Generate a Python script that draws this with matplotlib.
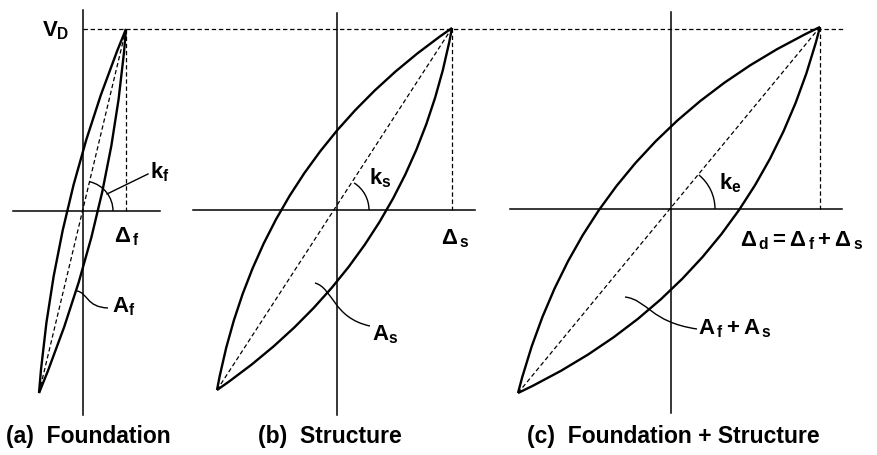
import matplotlib
matplotlib.use("Agg")
import matplotlib.pyplot as plt
import numpy as np
from matplotlib.path import Path
from matplotlib.patches import PathPatch, Arc

plt.rcParams['font.family'] = ['Liberation Sans', 'DejaVu Sans']
plt.rcParams['font.weight'] = 'bold'
plt.rcParams['mathtext.fontset'] = 'custom'
plt.rcParams['mathtext.rm'] = 'Liberation Sans:bold'
plt.rcParams['mathtext.it'] = 'Liberation Sans:bold'
plt.rcParams['mathtext.bf'] = 'Liberation Sans:bold'

# panel geometry (pixel units, y grows downward)
origin_x = [83, 337, 671]
origin_y = [211, 210, 209]
peak_dx = [43, 115, 149]          # Delta_f, Delta_s, Delta_d
peak_rise = [182, 182, 182]       # V_D
tip_dx = [-44, -120, -153]
tip_drop = [182, 180, 184]
bulge = [15, 45, 56]              # half-width of each loop
arc_r = [30, 32, 44]
vaxis_top = [10, 13, 12]
vaxis_bot = [415, 415, 413]
haxis_left = [13, 193, 510]
haxis_right = [160, 475, 842]
vd_line_end = 845

titles = ['(a)  Foundation', '(b)  Structure', '(c)  Foundation + Structure']
title_x = [6, 258, 527]
title_y = 437

k_labels = [r'$k_f$', r'$k_s$', r'$k_e$']
k_pos = [(150, 172), (369, 178), (719, 183)]
d_labels = [r'$\Delta_{\,f}$', r'$\Delta_{\,s}$', r'$\Delta_{\,d} = \Delta_{\,f} + \Delta_{\,s}$']
d_pos = [(114, 237), (441, 239), (740, 241)]
a_labels = [r'$A_f$', r'$A_s$', r'$A_{\,f} + A_{\,s}$']
a_pos = [(112, 307), (372, 335), (698, 329)]
a_leaders = [
    [(77, 291), (88, 293), (86, 307), (108, 308)],
    [(315, 283), (333, 288), (333, 318), (370, 326)],
    [(625, 297), (648, 300), (650, 322), (697, 329)],
]
kf_leader = [(107, 194), (148, 174)]

fig = plt.figure(figsize=(8.77, 4.55), dpi=100)
ax = fig.add_axes([0, 0, 1, 1])
ax.set_xlim(0, 877)
ax.set_ylim(455, 0)
ax.axis('off')

dash = dict(color='black', lw=0.9, dashes=(3.5, 2.2))
fs = 16

# V_D level
ax.plot([origin_x[0], vd_line_end], [origin_y[0] - peak_rise[0]] * 2, **dash)
ax.text(69, origin_y[0] - peak_rise[0] + 2, r'$V_D$', fontsize=fs, ha='right', va='center')

for i in range(3):
    ox, oy = origin_x[i], origin_y[i]
    px, py = ox + peak_dx[i], oy - peak_rise[i]
    tx, ty = ox + tip_dx[i], oy + tip_drop[i]
    # axes
    ax.plot([ox, ox], [vaxis_top[i], vaxis_bot[i]], color='black', lw=1.1)
    ax.plot([haxis_left[i], haxis_right[i]], [oy, oy], color='black', lw=1.1)
    # dashed secant and drop
    ax.plot([tx, px], [ty, py], **dash)
    ax.plot([px, px], [py, oy], **dash)
    # loop branches as quadratic curves
    dx, dy = px - tx, py - ty
    L = np.hypot(dx, dy)
    nx, ny = dy / L, -dx / L
    if nx > 0:
        nx, ny = -nx, -ny
    mx, my = (tx + px) / 2, (ty + py) / 2
    for s in (1, -1):
        cx, cy = mx + s * 2 * bulge[i] * nx, my + s * 2 * bulge[i] * ny
        path = Path([(tx, ty), (cx, cy), (px, py)], [Path.MOVETO, Path.CURVE3, Path.CURVE3])
        ax.add_patch(PathPatch(path, fill=False, lw=1.7, color='black', joinstyle='miter'))
    # stiffness arc
    ang = np.degrees(np.arctan2(peak_rise[i], peak_dx[i]))
    ax.add_patch(Arc((ox, oy), 2 * arc_r[i], 2 * arc_r[i], theta1=-ang, theta2=0,
                     color='black', lw=1.0))
    # labels
    ax.text(k_pos[i][0], k_pos[i][1], k_labels[i], fontsize=fs, ha='left', va='center')
    ax.text(d_pos[i][0], d_pos[i][1], d_labels[i], fontsize=fs, ha='left', va='center')
    ax.text(a_pos[i][0], a_pos[i][1], a_labels[i], fontsize=fs, ha='left', va='center')
    lp = Path(a_leaders[i], [Path.MOVETO, Path.CURVE4, Path.CURVE4, Path.CURVE4])
    ax.add_patch(PathPatch(lp, fill=False, lw=1.0, color='black'))
    ax.text(title_x[i], title_y, titles[i], fontsize=16.5, fontweight='bold', ha='left', va='center')

ax.plot([p[0] for p in kf_leader], [p[1] for p in kf_leader], color='black', lw=1.0)

fig.savefig('out.png', dpi=100)
